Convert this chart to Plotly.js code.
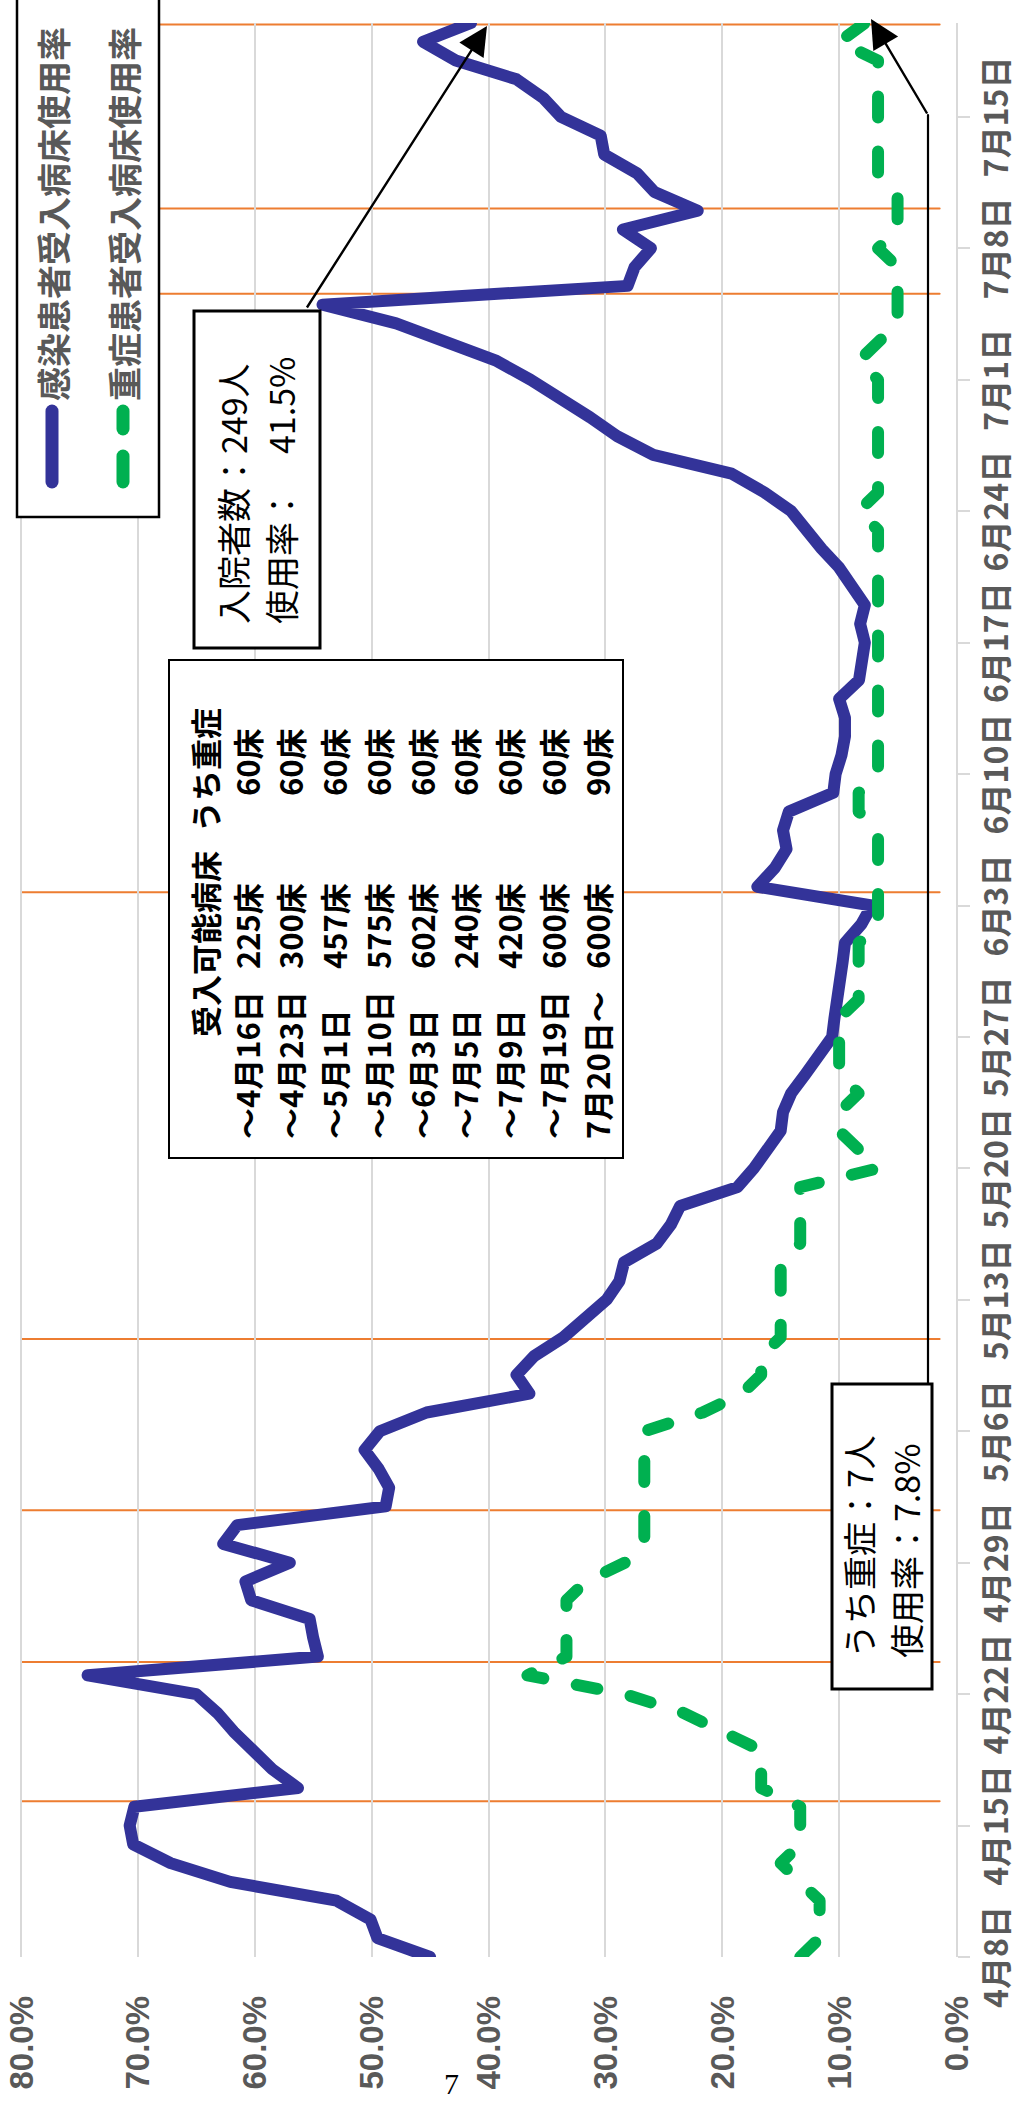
<!DOCTYPE html>
<html><head><meta charset="utf-8">
<script src="https://cdn.plot.ly/plotly-3.0.1.min.js"></script>
<style>
html,body{margin:0;padding:0;width:1024px;height:2103px;overflow:hidden;background:#fff;}
#wrap{position:absolute;left:0;top:0;width:2103px;height:1024px;transform-origin:0 0;transform:translate(0px,2103px) rotate(-90deg);}
#chart .js-line{stroke-linecap:round !important;stroke-linejoin:round !important;}
#chart .shapelayer path{stroke-linecap:round;}
</style></head>
<body><div id="wrap"><div id="chart" style="width:2103px;height:1024px;"></div></div>
<script>
// ---- data ----
const dates = [
 '2020-04-08','2020-04-09','2020-04-10','2020-04-11','2020-04-12','2020-04-13','2020-04-14','2020-04-15','2020-04-16','2020-04-17',
 '2020-04-18','2020-04-19','2020-04-20','2020-04-21','2020-04-22','2020-04-23','2020-04-24','2020-04-25','2020-04-26','2020-04-27',
 '2020-04-28','2020-04-29','2020-04-30',
 '2020-05-01','2020-05-02','2020-05-03','2020-05-04','2020-05-05','2020-05-06','2020-05-07','2020-05-08','2020-05-09','2020-05-10',
 '2020-05-11','2020-05-12','2020-05-13','2020-05-14','2020-05-15','2020-05-16','2020-05-17','2020-05-18','2020-05-19','2020-05-20',
 '2020-05-21','2020-05-22','2020-05-23','2020-05-24','2020-05-25','2020-05-26','2020-05-27','2020-05-28','2020-05-29','2020-05-30','2020-05-31',
 '2020-06-01','2020-06-02','2020-06-03','2020-06-04','2020-06-05','2020-06-06','2020-06-07','2020-06-08','2020-06-09','2020-06-10',
 '2020-06-11','2020-06-12','2020-06-13','2020-06-14','2020-06-15','2020-06-16','2020-06-17','2020-06-18','2020-06-19','2020-06-20',
 '2020-06-21','2020-06-22','2020-06-23','2020-06-24','2020-06-25','2020-06-26','2020-06-27','2020-06-28','2020-06-29','2020-06-30',
 '2020-07-01','2020-07-02','2020-07-03','2020-07-04','2020-07-05','2020-07-06','2020-07-07','2020-07-08','2020-07-09','2020-07-10',
 '2020-07-11','2020-07-12','2020-07-13','2020-07-14','2020-07-15','2020-07-16','2020-07-17','2020-07-18','2020-07-19','2020-07-20'
];
// 感染患者受入病床使用率 (%)
const infectedRate = [
 45.0,49.5,50.1,53.0,62.1,67.2,70.4,70.7,70.3,56.3,58.5,60.2,61.8,63.2,65.0,74.3,54.6,55.0,55.3,60.3,60.8,57.0,62.7,
 61.5,48.8,48.5,49.4,50.6,49.3,45.3,36.5,37.6,36.1,33.6,31.9,29.9,28.8,28.4,25.6,24.4,23.6,18.7,17.3,16.1,15.0,14.8,14.1,12.9,11.6,10.6,10.4,10.1,9.9,9.7,
 9.5,8.1,7.2,17.0,15.5,14.5,14.8,14.3,10.5,10.3,9.8,9.5,9.5,10.0,8.3,8.1,7.8,8.2,7.8,8.9,10.0,11.5,12.9,14.1,16.4,19.2,25.9,29.0,31.3,33.8,
 36.4,39.3,43.3,47.9,54.2,28.1,27.5,26.1,28.5,22.1,25.8,27.3,30.1,30.4,33.8,35.3,37.6,42.8,45.6,41.5
];
// 重症患者受入病床使用率 (%)
const severeRate = [
 13.33,11.67,11.67,11.67,13.33,15.0,13.33,13.33,13.33,16.67,16.67,16.67,20.0,23.33,28.33,36.67,33.33,33.33,33.33,33.33,31.67,28.33,26.67,
 26.67,26.67,26.67,26.67,26.67,26.67,21.67,18.33,16.67,16.67,15.0,15.0,15.0,15.0,15.0,13.33,13.33,13.33,13.33,6.67,8.33,10.0,10.0,8.33,10.0,10.0,10.0,10.0,8.33,8.33,8.33,
 8.33,6.67,6.67,6.67,6.67,6.67,6.67,8.33,8.33,6.67,6.67,6.67,6.67,6.67,6.67,6.67,6.67,6.67,6.67,6.67,6.67,6.67,6.67,8.33,6.67,6.67,6.67,6.67,6.67,6.67,
 6.67,8.33,6.67,5.0,5.0,5.0,5.0,6.67,5.0,5.0,5.0,6.67,6.67,6.67,6.67,6.67,6.67,6.67,10.0,7.78
];
const seriesNames = ['感染患者受入病床使用率','重症患者受入病床使用率'];
const pctTicks = [0, 10, 20, 30, 40, 50, 60, 70, 80];
// capacity table
const tableHeader = ['受入可能病床','うち重症'];
const periods = ['～4月16日','～4月23日','～5月1日','～5月10日','～6月3日','～7月5日','～7月9日','～7月19日','7月20日～'];
const bedsTotal = [225,300,457,575,602,240,420,600,600];
const bedsSevere = [60,60,60,60,60,60,60,60,90];
// capacity change markers
const changeDates = ['2020-04-16 07:00','2020-04-23 17:00','2020-05-01 19:00','2020-05-10 22:00','2020-06-03 17:00','2020-07-05 14:00','2020-07-10 03:00','2020-07-19 22:00'];
// callouts
const noteInfected = ['入院者数：249人','使用率：　41.5%'];
const noteSevere = ['うち重症：7人','使用率：7.8%'];
const pageNumber = '7';

// ---- layout helpers (landscape pixel -> paper) ----
const L = 146, R = 2080, T = 19, B = 956;
const TOP80 = 21;                            // pixel row of the 80% gridline
const YMAX = 0.8 * (B - T) / (B - TOP80);    // small headroom so the 80% line is kept
const pX = x => (x - L) / (R - L);
const pY = y => (B - y) / (B - T);
const FONT = '"Noto Sans CJK JP", "Noto Sans", sans-serif';
const NUMFONT = '"Liberation Sans", Arial, sans-serif';
const GRAY = '#595959';

const traces = [
 {x: dates, y: infectedRate.map(v => v / 100), name: seriesNames[0], type: 'scatter', mode: 'lines',
  line: {color: '#333399', width: 12}},
 {x: dates, y: severeRate.map(v => v / 100), name: seriesNames[1], type: 'scatter', mode: 'lines',
  line: {color: '#00B050', width: 12, dash: '21px,34px'}}
];

const shapes = [];
changeDates.forEach(d => shapes.push({type: 'line', xref: 'x', yref: 'y', x0: d, x1: d, y0: 0.014, y1: 0.8,
  line: {color: '#ED7D31', width: 2}, layer: 'below'}));
function rect(x0, x1, y0, y1, w) {
  shapes.push({type: 'rect', xref: 'paper', yref: 'paper', x0: pX(x0), x1: pX(x1), y0: pY(y1), y1: pY(y0),
    fillcolor: '#ffffff', line: {color: '#000000', width: w}, layer: 'above'});
}
function seg(x0, y0, x1, y1, color, w) {
  shapes.push({type: 'line', xref: 'paper', yref: 'paper', x0: pX(x0), y0: pY(y0), x1: pX(x1), y1: pY(y1),
    line: {color: color, width: w}, layer: 'above'});
}
// legend
rect(1586, 2112, 17, 159, 2.5);
seg(1621, 52, 1692, 52, '#333399', 13);
seg(1621, 123, 1647, 123, '#00B050', 13);
seg(1674, 123, 1692, 123, '#00B050', 13);
// table box and callout boxes
rect(945, 1443, 169, 623, 2);
rect(1455, 1792, 194, 320, 3);
rect(414, 719, 832, 932, 3);
seg(719, 928, 1988, 928, '#000000', 2.2);

const annotations = [];
function txt(t, x, y, anchor, size, weight, color) {
  annotations.push({text: t, xref: 'paper', yref: 'paper', x: pX(x), y: pY(y), xanchor: anchor, yanchor: 'middle',
    showarrow: false, font: {family: FONT, size: size, weight: weight, color: color}});
}
txt(seriesNames[0], 1700, 52, 'left', 34, 'bold', GRAY);
txt(seriesNames[1], 1700, 123, 'left', 34, 'bold', GRAY);
// table
const rowY0 = 246, rowStep = 43.75;
txt(tableHeader[0], 1064, 204, 'left', 31, 'bold', '#000');
txt(tableHeader[1], 1269, 204, 'left', 31, 'bold', '#000');
periods.forEach((p, i) => {
  const y = rowY0 + i * rowStep;
  txt(p, 962, y, 'left', 31, 'bold', '#000');
  txt(bedsTotal[i] + '床', 1222, y, 'right', 31, 'bold', '#000');
  txt(bedsSevere[i] + '床', 1377, y, 'right', 31, 'bold', '#000');
});
// callout texts
txt(noteInfected[0], 1477, 233, 'left', 34, 'normal', '#000');
txt(noteInfected[1], 1477, 280, 'left', 34, 'normal', '#000');
txt(noteSevere[0], 443, 858, 'left', 34, 'normal', '#000');
txt(noteSevere[1], 443, 905, 'left', 34, 'normal', '#000');
// arrows
annotations.push({text: '', xref: 'paper', yref: 'paper', x: pX(2077), y: pY(487), ax: 1794 - 2077, ay: 306 - 487,
  axref: 'pixel', ayref: 'pixel', showarrow: true, arrowhead: 2, arrowsize: 2.4, arrowwidth: 2.4, arrowcolor: '#000'});
annotations.push({text: '', xref: 'paper', yref: 'paper', x: pX(2084), y: pY(871), ax: 1988 - 2084, ay: 928 - 871,
  axref: 'pixel', ayref: 'pixel', showarrow: true, arrowhead: 2, arrowsize: 2.4, arrowwidth: 2.4, arrowcolor: '#000'});
// page number (upright in the final page)
annotations.push({text: pageNumber, xref: 'paper', yref: 'paper', x: pX(20), y: pY(451), textangle: 90,
  showarrow: false, xanchor: 'center', yanchor: 'middle', font: {family: '"Liberation Serif", serif', size: 30, color: '#000'}});

const layout = {
  width: 2103, height: 1024,
  margin: {l: L, r: 2103 - R, t: T, b: 1024 - B, pad: 0},
  paper_bgcolor: '#ffffff', plot_bgcolor: '#ffffff',
  showlegend: false,
  xaxis: {type: 'date', range: ['2020-04-08', '2020-07-20'], tick0: '2020-04-08', dtick: 7 * 86400000,
    tickformat: '%-m月%-d日', showgrid: false, zeroline: false, showline: true, linecolor: '#D9D9D9', linewidth: 2,
    ticks: 'outside', ticklen: 12, tickwidth: 2, tickcolor: '#D9D9D9', tickangle: 0, ticklabeloverflow: 'allow',
    tickfont: {family: FONT, size: 32, weight: 'bold', color: GRAY}, automargin: false},
  yaxis: {range: [0, YMAX], tickmode: 'array', tickvals: pctTicks.map(v => v / 100),
    ticktext: pctTicks.map(v => v.toFixed(1) + '%'), showgrid: true, gridcolor: '#D9D9D9', gridwidth: 2,
    zeroline: false, showline: false, ticks: '', ticklabelstandoff: 38, ticklabeloverflow: 'allow',
    tickfont: {family: NUMFONT, size: 33, weight: 'bold', color: GRAY}, automargin: false},
  shapes: shapes,
  annotations: annotations
};
Plotly.newPlot('chart', traces, layout, {displayModeBar: false, staticPlot: true});
</script></body></html>
